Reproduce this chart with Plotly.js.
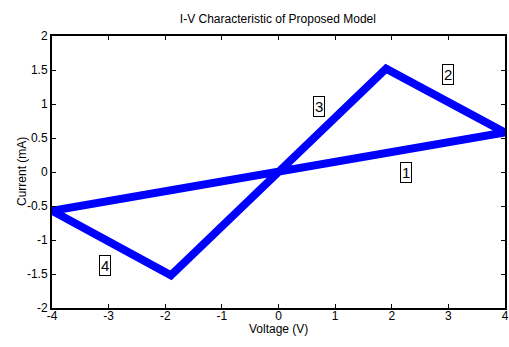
<!DOCTYPE html>
<html><head><meta charset="utf-8">
<script src="https://cdn.plot.ly/plotly-3.0.1.min.js"></script>
<style>html,body{margin:0;padding:0;background:#fff}#plot{width:509px;height:347px}</style>
</head><body><div id="plot"></div>
<script>
const voltage = [-4, 4, 1.9, 0, -1.9, -4];
const current = [-0.57, 0.58, 1.52, 0, -1.52, -0.57];
const labelText = ['1', '2', '3', '4'];
const labelX = [2.26, 3.0, 0.72, -3.07];
const labelY = [0.0, 1.43, 0.97, -1.38];
const xTicks = [-4, -3, -2, -1, 0, 1, 2, 3, 4];
const yTicks = [-2, -1.5, -1, -0.5, 0, 0.5, 1, 1.5, 2];

const fam = 'Liberation Sans, Arial, sans-serif';
const font = s => ({family: fam, color: '#000', size: s});
const annotations = labelText.map((t, i) => ({
  x: labelX[i], y: labelY[i], xref: 'x', yref: 'y', text: t, showarrow: false,
  bordercolor: '#000', borderwidth: 1, borderpad: 1, bgcolor: '#fff',
  font: font(15)
}));
annotations.push({
  text: 'Voltage (V)', xref: 'paper', yref: 'paper', x: 0.5, y: 0, yshift: -21,
  xanchor: 'center', yanchor: 'middle', showarrow: false, font: font(12)
});
annotations.push({
  text: 'Current (mA)', xref: 'paper', yref: 'paper', x: 0, y: 0.5, xshift: -30,
  xanchor: 'center', yanchor: 'middle', textangle: -90, showarrow: false, font: font(12)
});

Plotly.newPlot('plot', [{
  x: voltage, y: current, type: 'scatter', mode: 'lines',
  line: {color: '#0000ff', width: 8}, hoverinfo: 'none'
}], {
  width: 509, height: 347,
  margin: {l: 52, r: 4, t: 36, b: 39},
  paper_bgcolor: '#fff', plot_bgcolor: '#fff',
  showlegend: false,
  title: {text: 'I-V Characteristic of Proposed Model', font: font(12), x: 0.546, xanchor: 'center', y: 0.945, yanchor: 'middle'},
  xaxis: {
    range: [-4, 4], tickvals: xTicks, ticktext: xTicks.map(String),
    ticks: 'inside', ticklen: 4, tickcolor: '#000', showgrid: false, zeroline: false,
    showline: true, linecolor: '#000', linewidth: 2, mirror: 'ticks',
    tickfont: font(12), ticklabelstandoff: -4
  },
  yaxis: {
    range: [-2, 2], tickvals: yTicks, ticktext: yTicks.map(String),
    ticks: 'inside', ticklen: 4, tickcolor: '#000', showgrid: false, zeroline: false,
    showline: true, linecolor: '#000', linewidth: 2, mirror: 'ticks',
    tickfont: font(12), ticklabelstandoff: 0
  },
  annotations: annotations
}, {staticPlot: true, displayModeBar: false});
</script></body></html>
